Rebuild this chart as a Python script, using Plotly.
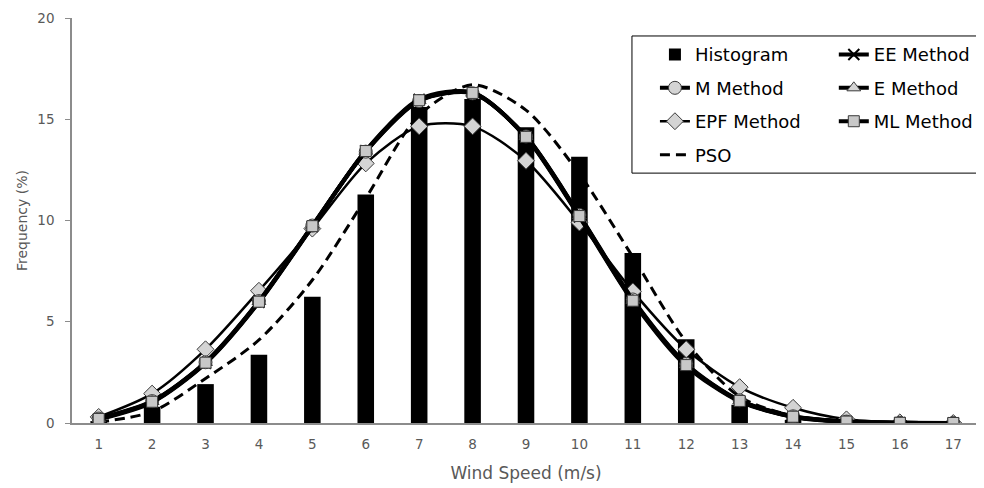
import plotly.graph_objects as go

wind_speed = list(range(1, 18))
histogram = [0.1, 0.8, 1.92, 3.37, 6.23, 11.29, 15.6, 16.0, 14.6, 13.15, 8.4, 4.13, 0.9, 0.15, 0.02, 0, 0]
ee_method = [0.18, 1.02, 2.95, 5.96, 9.7, 13.45, 15.98, 16.32, 14.1, 10.18, 6.0, 2.82, 1.06, 0.3, 0.06, 0.01, 0.0]
m_method = [0.22, 1.08, 3.0, 6.02, 9.75, 13.4, 15.9, 16.28, 14.15, 10.27, 6.1, 2.92, 1.12, 0.33, 0.07, 0.01, 0.0]
e_method = [0.21, 1.06, 2.99, 6.0, 9.73, 13.42, 15.93, 16.29, 14.14, 10.24, 6.06, 2.88, 1.1, 0.32, 0.07, 0.01, 0.0]
epf_method = [0.3, 1.45, 3.64, 6.53, 9.6, 12.82, 14.65, 14.65, 12.95, 9.9, 6.5, 3.64, 1.77, 0.75, 0.18, 0.03, 0.0]
ml_method = [0.2, 1.05, 2.98, 5.99, 9.72, 13.43, 15.94, 16.3, 14.13, 10.22, 6.04, 2.86, 1.09, 0.31, 0.07, 0.01, 0.0]
pso = [0.05, 0.56, 2.2, 4.1, 7.06, 11.1, 15.2, 16.7, 15.45, 12.3, 8.2, 4.0, 1.3, 0.35, 0.08, 0.01, 0.0]
y_ticks = [0, 5, 10, 15, 20]

FONT = "DejaVu Sans"
GRAY = "#595959"
FILL = "#d4d4d4"

fig = go.Figure()

fig.add_trace(go.Bar(x=wind_speed, y=histogram, name="Histogram", width=0.31,
                     marker=dict(color="black", line=dict(width=0)),
                     legend="legend", legendgroup="h", legendrank=1))

def line_trace(y, name, symbol, size, lw, legend, group, rank, mcolor=FILL, mline="#3a3a3a", dash="solid", mode="lines+markers"):
    return go.Scatter(x=wind_speed, y=y, name=name, mode=mode,
                      line=dict(color="black", width=lw, dash=dash, shape="spline", smoothing=0.8),
                      marker=dict(symbol=symbol, size=size, color=mcolor, line=dict(color=mline, width=1)),
                      legend=legend, legendgroup=group, legendrank=rank)

fig.add_trace(line_trace(pso, "PSO", "circle", 1, 3, "legend", "p", 4, dash="10px,6px", mode="lines"))
fig.add_trace(line_trace(epf_method, "EPF Method", "diamond", 13, 2.5, "legend", "f", 3))
fig.add_trace(line_trace(m_method, "M Method", "circle", 13, 4, "legend", "m", 2))
fig.add_trace(go.Scatter(x=wind_speed, y=ee_method, name="EE Method", mode="lines+markers",
                         line=dict(color="black", width=4, shape="spline", smoothing=0.8),
                         marker=dict(symbol="x-thin", size=11, color="black", line=dict(color="black", width=2)),
                         legend="legend2", legendgroup="ee", legendrank=1))
fig.add_trace(line_trace(e_method, "E Method", "triangle-up", 12, 4, "legend2", "e", 2))
fig.add_trace(line_trace(ml_method, "ML Method", "square", 11, 4, "legend2", "ml", 3, mcolor="#c8c8c8"))

# legend frame
fig.add_shape(type="rect", xref="paper", yref="paper", x0=0.6167, x1=1.03, y0=0.617, y1=0.9556,
              line=dict(color="black", width=1), fillcolor="white", layer="below")

legend_common = dict(font=dict(family=FONT, size=18, color="black"), bgcolor="rgba(0,0,0,0)",
                     borderwidth=0, tracegroupgap=7, yanchor="top", xanchor="left", traceorder="grouped")

fig.update_layout(
    width=976, height=480,
    margin=dict(l=64, r=4, t=10, b=65, autoexpand=False),
    paper_bgcolor="white", plot_bgcolor="white",
    font=dict(family=FONT, color=GRAY),
    showlegend=True,
    legend=dict(x=0.642, y=0.955, **legend_common),
    legend2=dict(x=0.839, y=0.955, **legend_common),
    xaxis=dict(range=[0.5, 17.5], tickmode="array", tickvals=wind_speed, ticktext=[str(v) for v in wind_speed],
               showgrid=False, zeroline=False, showline=True, linecolor="#8c8c8c", linewidth=1.5,
               ticks="", tickfont=dict(family=FONT, size=13.5, color=GRAY), ticklabelstandoff=8,
               title=dict(text="Wind Speed (m/s)", font=dict(family=FONT, size=17, color=GRAY), standoff=16)),
    yaxis=dict(range=[0, 20], tickmode="array", tickvals=y_ticks, showgrid=False, zeroline=False,
               showline=True, linecolor="#8c8c8c", linewidth=1.5, ticks="outside", ticklen=5, tickcolor="#8c8c8c",
               tickfont=dict(family=FONT, size=13.5, color=GRAY), ticklabelstandoff=8,
               title=dict(text="Frequency (%)", font=dict(family=FONT, size=14, color=GRAY), standoff=6)),
)

fig.write_html("out.html")
